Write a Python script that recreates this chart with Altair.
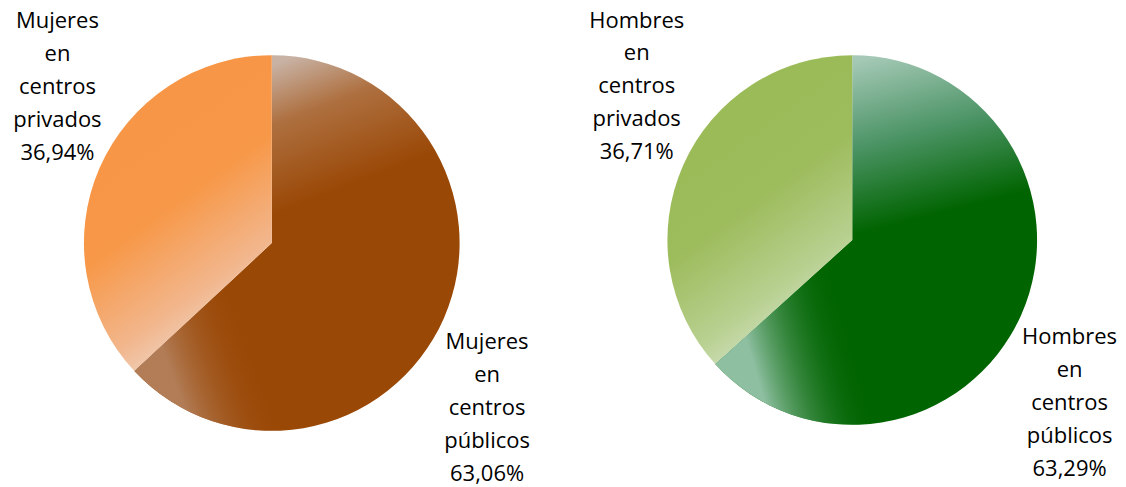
import altair as alt
import pandas as pd

# ---- data ----
categorias_m = ["Mujeres en centros públicos", "Mujeres en centros privados"]
valores_m = [63.06, 36.94]
categorias_h = ["Hombres en centros públicos", "Hombres en centros privados"]
valores_h = [63.29, 36.71]


def make_df(cats, vals):
    labels = [
        "\n".join(c.split(" ") + [f"{v:.2f}".replace(".", ",") + "%"])
        for c, v in zip(cats, vals)
    ]
    return pd.DataFrame({
        "categoria": cats,
        "valor": vals,
        "orden": list(range(len(cats))),
        "etiqueta": labels,
    })


def lin(x1, y1, x2, y2, stops):
    return {
        "gradient": "linear", "x1": x1, "y1": y1, "x2": x2, "y2": y2,
        "stops": [{"offset": o, "color": c} for o, c in stops],
    }


FONT = "Open Sans"


def pie(df, radius, fills, overlay, label_cfg, w, h):
    base = alt.Chart(df).transform_window(
        fin="sum(valor)", sort=[alt.SortField("orden")], frame=[None, 0]
    ).transform_calculate(
        ini="datum.fin - datum.valor",
        mid="datum.fin - datum.valor / 2",
    )
    sc = alt.Scale(domain=[0, 100])
    layers = []
    for i, cat in enumerate(df["categoria"]):
        layers.append(
            base.transform_filter(alt.datum.categoria == cat)
            .mark_arc(radius=radius, fill=fills[i], stroke=None)
            .encode(theta=alt.Theta("ini:Q", scale=sc), theta2="fin:Q")
        )
    # extra soft highlight on the large slice
    layers.append(
        base.transform_filter(alt.datum.categoria == df["categoria"][0])
        .mark_arc(radius=radius, fill=overlay)
        .encode(theta=alt.Theta("ini:Q", scale=sc), theta2="fin:Q")
    )
    for i, cat in enumerate(df["categoria"]):
        r, dx, dy = label_cfg[i]
        layers.append(
            base.transform_filter(alt.datum.categoria == cat)
            .mark_text(radius=r, dx=dx, dy=dy, font=FONT, fontSize=22,
                       lineBreak="\n", lineHeight=33, align="center",
                       baseline="middle", color="#000000")
            .encode(theta=alt.Theta("mid:Q", scale=sc), text="etiqueta:N")
        )
    return alt.layer(*layers).properties(width=w, height=h)


df_m = make_df(categorias_m, valores_m)
df_h = make_df(categorias_h, valores_h)

fills_m = [
    lin(0.5, 0.0, 0.62, 0.36, [(0, "#C8B2A4"), (0.4, "#AE7040"), (1, "#9A4806")]),
    lin(0.3, 0.3, 0.6, 1.0, [(0, "#F79646"), (0.3, "#F79848"), (0.7, "#F2B68C"), (1, "#EDDDD3")]),
]
overlay_m = lin(0.12, 0.86, 0.36, 0.76,
                [(0, "rgba(180,130,95,0.9)"), (1, "rgba(154,72,6,0)")])

fills_h = [
    lin(0.5, 0.0, 0.6, 0.45, [(0, "#A5C9B6"), (0.5, "#4C9466"), (1, "#006400")]),
    lin(0.3, 0.3, 0.6, 1.0, [(0, "#9BBB59"), (0.3, "#9DBC5C"), (0.7, "#B8D090"), (1, "#D8E6D2")]),
]
overlay_h = lin(0.12, 0.84, 0.42, 0.74,
                [(0, "rgba(150,196,170,0.95)"), (1, "rgba(0,100,0,0)")])

left = pie(df_m, 188, fills_m, overlay_m,
           [(235, 0, 5), (235, 1, -128)], 528, 470)
right = pie(df_h, 185, fills_h, overlay_h,
            [(238, 0, 1), (236, 0, -124)], 528, 464)

chart = alt.hconcat(left, right, spacing=53).properties(
    padding=0
).configure_view(stroke=None)

chart.save("out.html", embed_options={"renderer": "svg", "actions": False})
